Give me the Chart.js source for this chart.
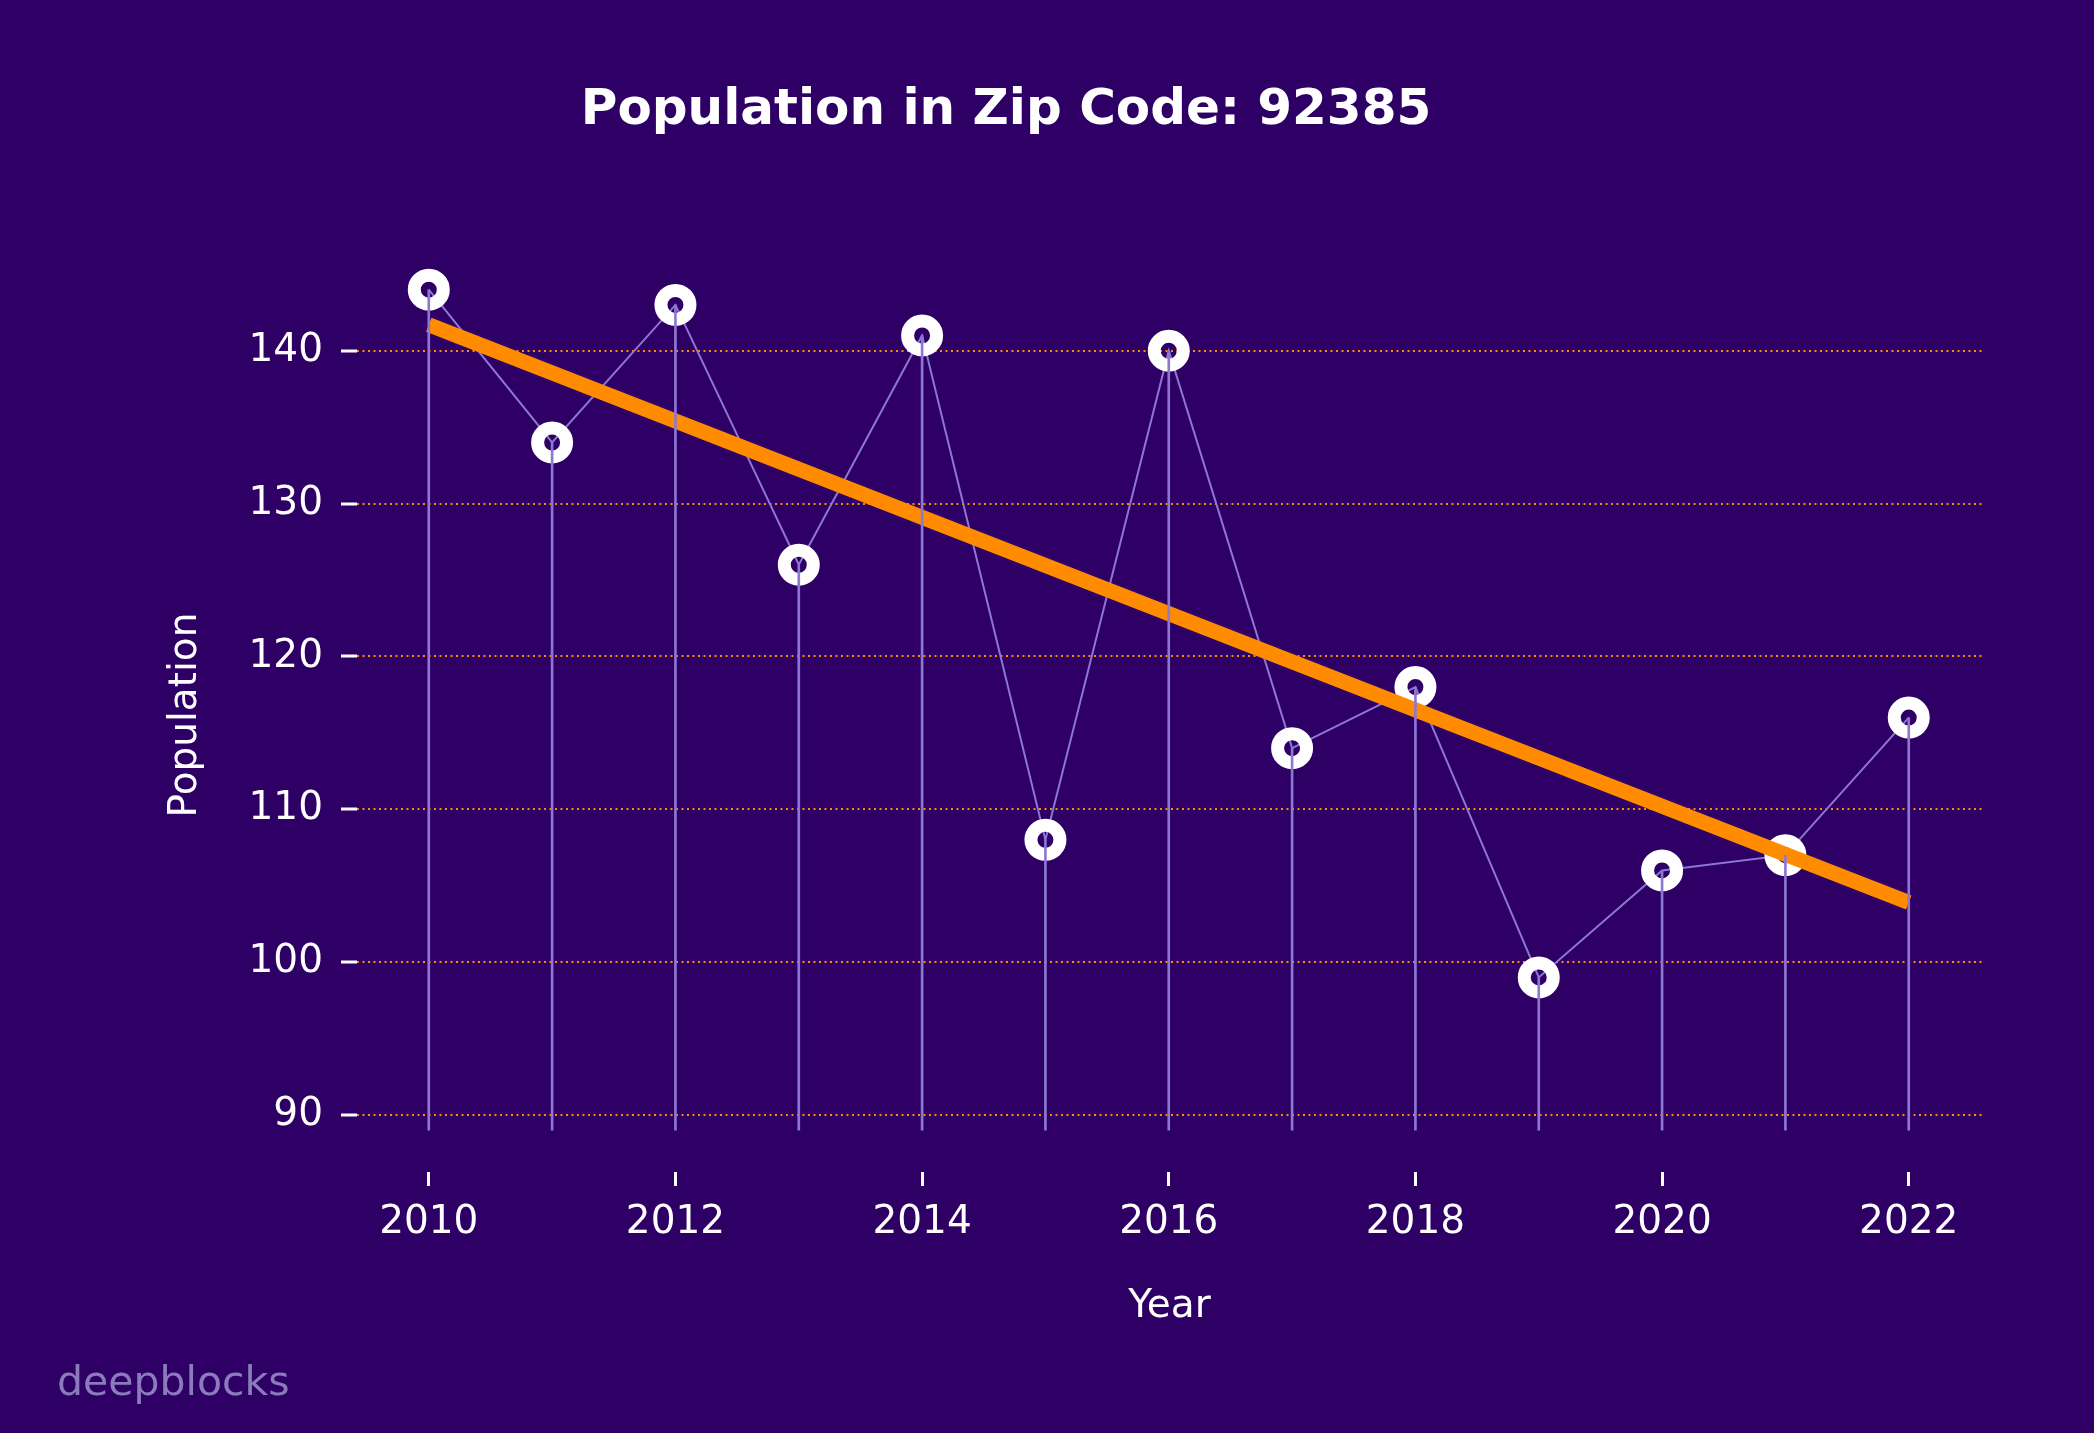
<!DOCTYPE html>
<html>
<head>
<meta charset="utf-8">
<title>Population in Zip Code: 92385</title>
<script src="https://cdn.jsdelivr.net/npm/chart.js@4"></script>
<style>
  html, body { margin: 0; padding: 0; background: #2e0066; }
  #wrap { width: 2094px; height: 1433px; }
</style>
</head>
<body>
<div id="wrap"><canvas id="popChart" width="2094" height="1433"></canvas></div>
<script>
  // values
  const years = [2010, 2011, 2012, 2013, 2014, 2015, 2016, 2017, 2018, 2019, 2020, 2021, 2022];
  const population = [144, 134, 143, 126, 141, 108, 140, 114, 118, 99, 106, 107, 116];
  const trendYears = [2010, 2022];
  const trendValues = [141.7, 103.9];
  const stemBase = 89;
  const xTickYears = [2010, 2012, 2014, 2016, 2018, 2020, 2022];
  const yTickValues = [90, 100, 110, 120, 130, 140];

  const BG = '#2e0066';
  const ORANGE = '#ff8c00';
  const LAVENDER = '#8c78d2';
  const FONT = '"DejaVu Sans", sans-serif';

  const points = years.map((y, i) => ({ x: y, y: population[i] }));

  const decor = {
    id: 'decor',
    beforeDraw(chart) {
      const c = chart.ctx;
      c.save();
      c.fillStyle = BG;
      c.fillRect(0, 0, chart.width, chart.height);
      c.restore();
    },
    afterDraw(chart) {
      const c = chart.ctx;
      c.save();
      c.fillStyle = '#ffffff';
      c.font = 'bold 50px ' + FONT;
      c.textAlign = 'center';
      c.textBaseline = 'alphabetic';
      c.fillText('Population in Zip Code: 92385', 1006, 124);
      c.fillStyle = '#8b7bbd';
      c.font = '41px ' + FONT;
      c.textAlign = 'left';
      c.fillText('deepblocks', 57, 1395);
      c.restore();
    }
  };

  new Chart(document.getElementById('popChart'), {
    type: 'line',
    data: {
      datasets: [
        {
          // stems, drawn on top of everything
          type: 'bar',
          data: years.map((y, i) => ({ x: y, y: [stemBase, population[i]] })),
          backgroundColor: LAVENDER,
          borderWidth: 0,
          barThickness: 2,
          order: 1
        },
        {
          data: trendYears.map((y, i) => ({ x: y, y: trendValues[i] })),
          borderColor: ORANGE,
          borderWidth: 15,
          borderCapStyle: 'butt',
          pointRadius: 0,
          order: 2
        },
        {
          data: points,
          showLine: false,
          pointRadius: 14.5,
          pointBorderWidth: 13,
          pointBorderColor: '#ffffff',
          pointBackgroundColor: 'rgba(0,0,0,0)',
          clip: false,
          order: 3
        },
        {
          data: points,
          borderColor: LAVENDER,
          borderWidth: 2,
          pointRadius: 0,
          order: 4
        }
      ]
    },
    options: {
      responsive: false,
      animation: false,
      layout: { padding: { left: 0, right: 112, top: 258, bottom: 0 } },
      plugins: {
        legend: { display: false },
        tooltip: { enabled: false },
        title: { display: false }
      },
      scales: {
        x: {
          type: 'linear',
          offset: false,
          min: 2009.418,
          max: 2022.594,
          afterBuildTicks: s => { s.ticks = xTickYears.map(v => ({ value: v })); },
          afterFit: s => { s.height = 261; },
          grid: { offset: false, drawOnChartArea: false, drawTicks: true, tickLength: 14, tickWidth: 3, tickColor: '#ffffff' },
          border: { display: false },
          ticks: {
            color: '#ffffff',
            font: { family: FONT, size: 39 },
            padding: 13,
            maxRotation: 0,
            autoSkip: false,
            callback: v => String(v)
          },
          title: {
            display: true,
            text: 'Year',
            color: '#ffffff',
            font: { family: FONT, size: 39 },
            padding: { top: 0, bottom: 103 }
          }
        },
        y: {
          min: 86.27,
          max: 146.07,
          afterBuildTicks: s => { s.ticks = yTickValues.map(v => ({ value: v })); },
          afterFit: s => { s.width = 357; },
          grid: {
            color: ORANGE,
            lineWidth: 2,
            drawTicks: true,
            tickLength: 16,
            tickWidth: 3,
            tickColor: '#ffffff',
            tickBorderDash: []
          },
          border: { display: false, dash: [2, 3.5] },
          ticks: {
            color: '#ffffff',
            font: { family: FONT, size: 39 },
            padding: 18
          },
          title: {
            display: true,
            text: 'Population',
            color: '#ffffff',
            font: { family: FONT, size: 39 },
            padding: { top: 162, bottom: 0 }
          }
        }
      }
    },
    plugins: [decor]
  });
</script>
</body>
</html>
